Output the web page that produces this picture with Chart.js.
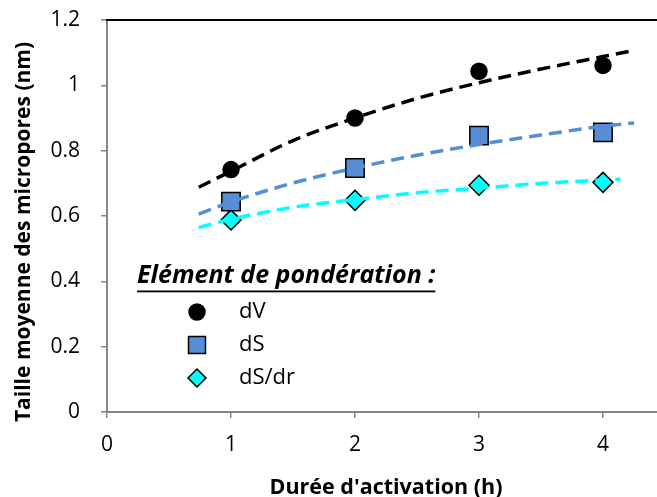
<!DOCTYPE html>
<html>
<head>
<meta charset="utf-8">
<script src="https://cdn.jsdelivr.net/npm/chart.js@4.4.1/dist/chart.umd.min.js"></script>
<style>
  html, body { margin: 0; padding: 0; background: #fff; overflow: hidden; }
  #wrap { width: 657px; height: 497px; overflow: hidden; }
</style>
</head>
<body>
<div id="wrap"><canvas id="chart" width="665" height="497"></canvas></div>
<script>
// measured points
const hours = [1, 2, 3, 4];
const dV   = [0.742, 0.900, 1.043, 1.061];
const dS   = [0.644, 0.747, 0.846, 0.856];
const dSdr = [0.588, 0.648, 0.694, 0.703];

// trend curves
const fitX     = [0.74, 1, 1.5, 2, 2.5, 3, 3.5, 4, 4.25];
const fitDV    = [0.688, 0.737, 0.831, 0.900, 0.960, 1.008, 1.050, 1.088, 1.107];
const fitDS    = [0.606, 0.643, 0.701, 0.747, 0.786, 0.819, 0.848, 0.875, 0.885];
const fitXdr   = [0.74, 1, 1.5, 2, 2.5, 3, 3.5, 4, 4.14];
const fitDSdr  = [0.565, 0.590, 0.627, 0.650, 0.671, 0.685, 0.700, 0.710, 0.713];

const yTitle = 'Taille moyenne des micropores (nm)';
const xTitle = "Durée d'activation (h)";
const legendTitle = 'Elément de pondération :';
const legendNames = ['dV', 'dS', 'dS/dr'];

const FONT = '"Open Sans"';
const BLUE = '#558ed5';
const CYAN = '#00ffff';
const AXIS = '#868686';

const pts = (xs, ys) => xs.map((x, k) => ({ x, y: ys[k] }));

function trend(data, color) {
  return {
    type: 'line', data, borderColor: color, borderWidth: 3.5, borderDash: [13, 7],
    pointRadius: 0, fill: false, cubicInterpolationMode: 'monotone',
  };
}
function marks(label, data, style, radius, fill) {
  return {
    type: 'scatter', label, data, pointStyle: style, pointRadius: radius,
    backgroundColor: fill, borderColor: '#000', borderWidth: 1.5,
  };
}

const series = [
  marks('dV',    pts(hours, dV),   'circle',  8,  '#000'),
  marks('dS',    pts(hours, dS),   'rect',    13, BLUE),
  marks('dS/dr', pts(hours, dSdr), 'rectRot', 10, CYAN),
];

const topBorder = {
  id: 'topBorder',
  afterDraw(chart) {
    const { ctx, chartArea: a } = chart;
    ctx.save();
    ctx.strokeStyle = '#000';
    ctx.lineWidth = 2;
    ctx.beginPath();
    ctx.moveTo(a.left - 1, a.top);
    ctx.lineTo(a.right, a.top);
    ctx.stroke();
    ctx.restore();
  }
};

// Excel puts the value-axis title a bit low, not centred on the plot
const sideTitle = {
  id: 'sideTitle',
  afterDraw(chart) {
    const ctx = chart.ctx;
    ctx.save();
    ctx.translate(24, 232);
    ctx.rotate(-Math.PI / 2);
    ctx.font = `bold 21px ${FONT}`;
    ctx.fillStyle = '#000';
    ctx.textAlign = 'center';
    ctx.textBaseline = 'middle';
    ctx.fillText(yTitle, 0, 0);
    ctx.restore();
  }
};

const innerLegend = {
  id: 'innerLegend',
  afterDraw(chart) {
    const ctx = chart.ctx;
    ctx.save();
    ctx.fillStyle = '#000';
    ctx.textBaseline = 'alphabetic';
    ctx.font = `italic bold 25px ${FONT}`;
    ctx.fillText(legendTitle, 137, 283);
    const w = ctx.measureText(legendTitle).width;
    ctx.fillRect(137, 290.5, w, 1.8);
    ctx.font = `22px ${FONT}`;
    ctx.textBaseline = 'middle';
    legendNames.forEach((name, k) => {
      const y = 312 + k * 33;
      const ds = series[k];
      const r = ds.pointStyle === 'rect' ? 12 : ds.pointStyle === 'rectRot' ? 9 : 8;
      ctx.fillStyle = ds.backgroundColor;
      ctx.strokeStyle = '#000';
      ctx.lineWidth = 1.5;
      Chart.helpers.drawPoint(ctx, {
        pointStyle: ds.pointStyle, radius: r, borderWidth: 1.5, rotation: 0
      }, 197, y);
      ctx.fillStyle = '#000';
      ctx.fillText(name, 239, y);
    });
    ctx.restore();
  }
};

new Chart(document.getElementById('chart'), {
  data: {
    datasets: [
      trend(pts(fitX, fitDV), '#000'),
      trend(pts(fitX, fitDS), BLUE),
      trend(pts(fitXdr, fitDSdr), CYAN),
      ...series,
    ]
  },
  options: {
    responsive: false,
    animation: false,
    events: [],
    layout: { autoPadding: false, padding: { top: 20, right: 0, left: 0, bottom: 0 } },
    plugins: { legend: { display: false }, tooltip: { enabled: false } },
    scales: {
      x: {
        type: 'linear', min: 0, max: 4.5,
        afterFit: s => { s.height = 85; s.paddingRight = 0; s.paddingLeft = 0; },
        border: { color: AXIS, width: 2 },
        grid: { drawOnChartArea: false, tickLength: 6, color: AXIS, lineWidth: 1.5 },
        ticks: { stepSize: 1, includeBounds: false, color: '#000', padding: 14,
                 font: { family: FONT, size: 21 } },
        title: { display: true, text: xTitle, color: '#000',
                 font: { family: FONT, size: 21.5, weight: 'bold' },
                 padding: { top: 0, bottom: -4 } }
      },
      y: {
        min: 0, max: 1.2,
        afterFit: s => { s.width = 107; s.paddingTop = 0; s.paddingBottom = 0; },
        border: { color: AXIS, width: 2 },
        grid: { drawOnChartArea: false, tickLength: 6, color: AXIS, lineWidth: 1.5 },
        ticks: { stepSize: 0.2, color: '#000', padding: 21,
                 font: { family: FONT, size: 21 },
                 callback: v => String(Number(v.toFixed(1))) }
      }
    }
  },
  plugins: [topBorder, sideTitle, innerLegend]
});
</script>
</body>
</html>
